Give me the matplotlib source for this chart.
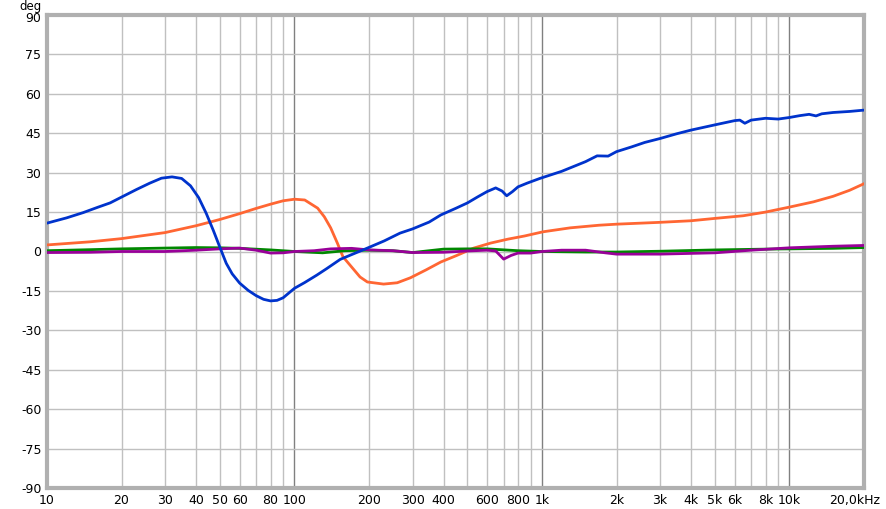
import matplotlib
matplotlib.use("Agg")
import matplotlib.pyplot as plt
import matplotlib.transforms as mtransforms
from matplotlib.ticker import FixedLocator, NullFormatter, NullLocator

# ---- data ----
blue_f = [10, 12, 14, 16, 18, 20, 23, 26, 29, 32, 35, 38, 41, 44, 47, 50, 53, 56, 60, 65, 70, 75, 80, 85, 90, 100,
          110, 123, 135, 153, 170, 197, 230, 267, 300, 350, 390, 450, 500, 550, 600, 650, 690, 720, 760, 800,
          870, 980, 1200, 1500, 1670, 1850, 2000, 2300, 2600, 3000, 3500, 4000, 5000, 6000, 6300, 6600, 7000, 8000,
          9000, 10000, 11000, 12000, 12800, 13500, 15000, 17500, 20000]
blue_v = [10.8, 12.8, 14.8, 16.8, 18.5, 20.7, 23.6, 26.0, 27.9, 28.4, 27.8, 25.0, 20.5, 14.5, 8.0, 1.5, -4.5, -8.5,
          -12.0, -14.8, -16.8, -18.2, -18.8, -18.6, -17.6, -14.0, -11.8, -9.0, -6.5, -3.0, -1.2, 1.3, 4.0,
          7.0, 8.6, 11.2, 13.9, 16.5, 18.5, 20.8, 22.8, 24.2, 23.0, 21.2, 22.8, 24.6, 26.0, 27.8, 30.5, 34.2, 36.4,
          36.3, 38.0, 39.8, 41.5, 43.0, 44.8, 46.2, 48.2, 49.8, 50.0, 48.8, 50.0, 50.7, 50.4, 51.0, 51.7, 52.2,
          51.6, 52.4, 52.9, 53.3, 53.8]

orange_f = [10, 15, 20, 30, 40, 50, 60, 70, 80, 90, 100, 110, 124, 132, 140, 149, 157, 167, 184, 197, 229, 260,
            294, 340, 390, 450, 530, 620, 728, 850, 1010, 1300, 1700, 2000, 3000, 4000, 5000, 6500, 8000, 10000,
            12500, 15000, 17500, 20000]
orange_v = [2.5, 3.7, 4.9, 7.2, 9.8, 12.2, 14.4, 16.4, 18.0, 19.3, 19.9, 19.6, 16.5, 13.2, 9.0, 3.2, -2.0, -5.0, -9.7,
            -11.6, -12.4, -11.9, -10.0, -7.0, -4.0, -1.6, 1.3, 3.2, 4.7, 5.9, 7.5, 9.0, 10.0, 10.4,
            11.1, 11.7, 12.6, 13.6, 15.0, 16.9, 18.9, 21.0, 23.3, 25.8]

green_f = [10, 15, 20, 30, 40, 50, 60, 80, 100, 130, 160, 200, 250, 300, 400, 500, 600, 800, 1000, 1500, 2000, 3000,
           5000, 8000, 10000, 15000, 20000]
green_v = [0.3, 0.7, 1.0, 1.3, 1.5, 1.4, 1.2, 0.6, 0.0, -0.5, 0.3, 0.5, 0.3, -0.4, 0.9, 1.0, 1.0, 0.3, 0.0, -0.2,
           -0.2, 0.1, 0.6, 0.9, 1.0, 1.2, 1.5]

purple_f = [10, 15, 20, 30, 40, 50, 60, 70, 80, 90, 100, 120, 140, 170, 200, 250, 300, 400, 500, 600, 650, 700, 750,
            800, 900, 1000, 1200, 1500, 1800, 2000, 3000, 5000, 7000, 10000, 15000, 20000]
purple_v = [-0.4, -0.3, 0.0, 0.0, 0.5, 1.0, 1.3, 0.5, -0.6, -0.5, 0.0, 0.3, 1.0, 1.2, 0.6, 0.3, -0.4, -0.3, 0.2,
            0.5, 0.2, -2.9, -1.5, -0.6, -0.6, 0.0, 0.5, 0.5, -0.5, -1.0, -1.0, -0.5, 0.5, 1.4, 2.0, 2.3]

xtick_vals = [10, 20, 30, 40, 50, 60, 80, 100, 200, 300, 400, 600, 800, 1000, 2000, 3000, 4000, 5000, 6000, 8000,
              10000, 20000]
xtick_labels = ["10", "20", "30", "40", "50", "60", "80", "100", "200", "300", "400", "600", "800", "1k", "2k", "3k",
                "4k", "5k", "6k", "8k", "10k", "20,0kHz"]
ytick_vals = list(range(-90, 91, 15))

# ---- figure ----
fig = plt.figure(figsize=(8.87, 5.09), dpi=100)
ax = fig.add_axes([47 / 887, 21 / 509, 817 / 887, 473 / 509])
ax.set_xscale("log")
ax.set_xlim(10, 20000)
ax.set_ylim(-90, 90)

# grid
minor_grid = [m * 10 ** d for d in range(1, 5) for m in range(2, 10) if m * 10 ** d < 20000]
for f in minor_grid:
    ax.axvline(f, color="#c0c0c0", lw=1.0, zorder=0)
for f in [100, 1000, 10000]:
    ax.axvline(f, color="#808080", lw=1.0, zorder=0)
for y in ytick_vals[1:-1]:
    ax.axhline(y, color="#c0c0c0", lw=1.0, zorder=0)

ax.plot(orange_f, orange_v, color="#ff6633", lw=2.0, zorder=3)
ax.plot(green_f, green_v, color="#008800", lw=2.0, zorder=3)
ax.plot(purple_f, purple_v, color="#990099", lw=2.0, zorder=4)
ax.plot(blue_f, blue_v, color="#0033cc", lw=2.0, zorder=5)

ax.xaxis.set_major_locator(FixedLocator(xtick_vals))
ax.set_xticklabels(xtick_labels)
ax.xaxis.set_minor_locator(NullLocator())
ax.xaxis.set_minor_formatter(NullFormatter())
ax.set_yticks(ytick_vals)
ax.set_yticklabels([str(v) for v in ytick_vals])
ax.tick_params(axis="both", length=0, labelsize=9, colors="black", pad=4)
labs = ax.get_xticklabels()
labs[-1].set_horizontalalignment("right")
off = mtransforms.ScaledTranslation(16 / 100, 0, fig.dpi_scale_trans)
labs[-1].set_transform(labs[-1].get_transform() + off)
ylabs = ax.get_yticklabels()
ylabs[-1].set_verticalalignment("top")
ylabs[-1].set_transform(ylabs[-1].get_transform() + mtransforms.ScaledTranslation(0, 3 / 100, fig.dpi_scale_trans))

for s in ax.spines.values():
    s.set_color("#b0b0b0")
    s.set_linewidth(3)

fig.text(42 / 887, 1.0, "deg", ha="right", va="top", fontsize=8.5)

fig.savefig("out.png", dpi=100)
